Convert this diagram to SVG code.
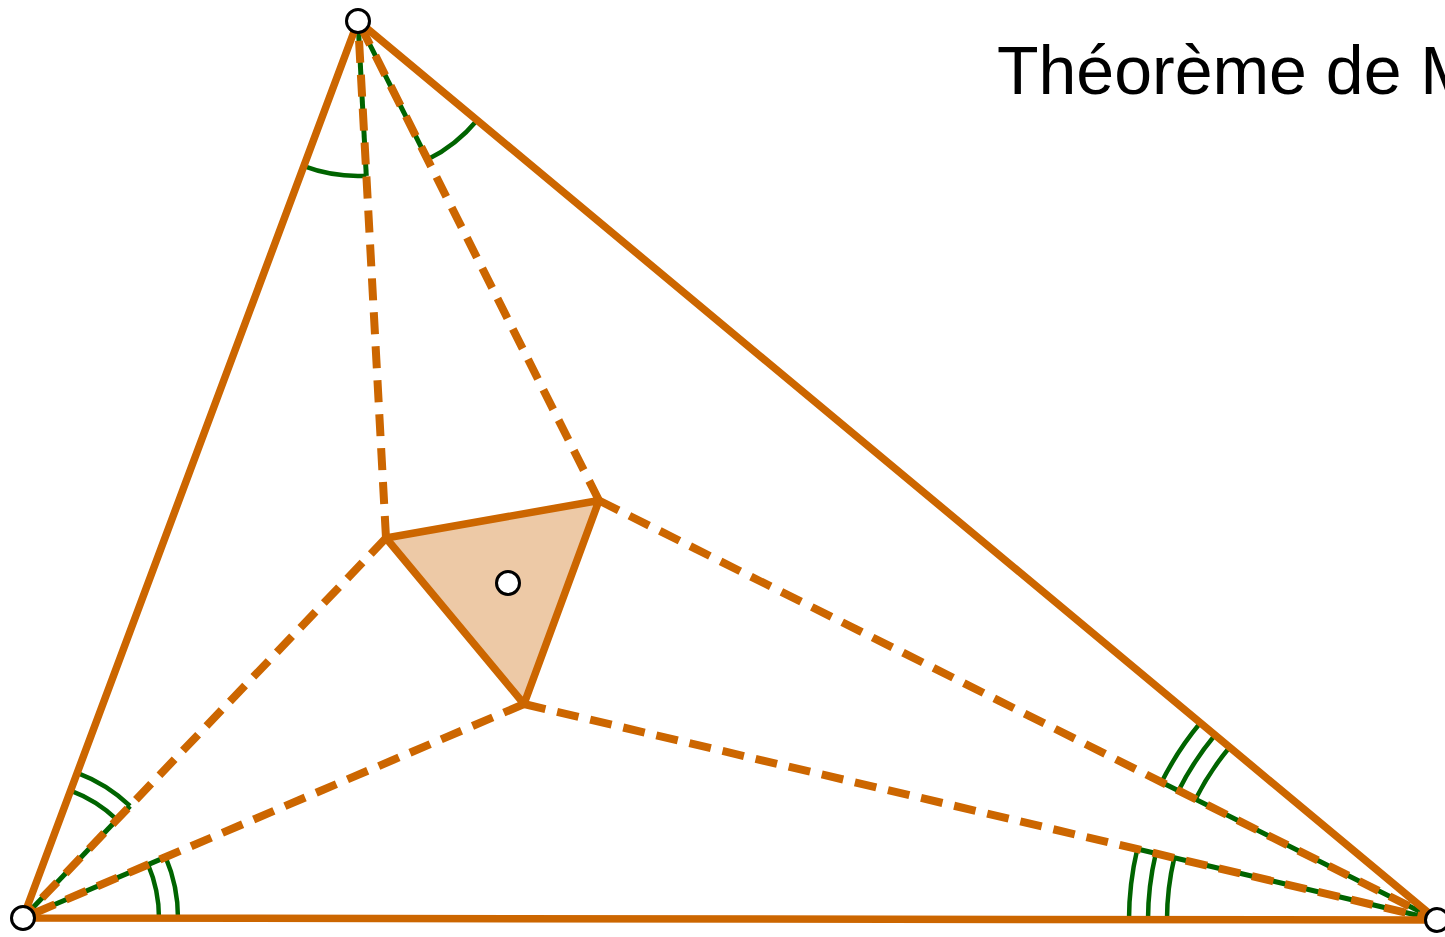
<svg xmlns="http://www.w3.org/2000/svg" width="1445" height="937" viewBox="0 0 1445 937">
<style>
.side{stroke:#CC6600;stroke-width:7.5;fill:none;stroke-linecap:round}
.tri{stroke:#CC6600;stroke-width:8;stroke-dasharray:22 12;fill:none}
.g{stroke:#006400;stroke-width:4.5;fill:none}
.gu{stroke:#006400;stroke-width:5;fill:none}
.pt{fill:#fff;stroke:#000;stroke-width:3}
.title{font-family:"Liberation Sans",Arial,sans-serif;font-size:68px;fill:#000}
</style>
<rect width="1445" height="937" fill="#fff"/>
<g id="angle-marks">
<path class="g" d="M366.3,175.8 A155,155 0 0 1 303.8,166.2"/>
<path class="g" d="M477.1,120.2 A155,155 0 0 1 427.5,159.6"/>
<path class="g" d="M77.2,772.8 A155,155 0 0 1 130,805.9"/>
<path class="g" d="M70.6,790.6 A136,136 0 0 1 116.9,819.6"/>
<path class="g" d="M165.6,857.1 A155,155 0 0 1 178,918.2"/>
<path class="g" d="M148.1,864.6 A136,136 0 0 1 159,918.2"/>
<path class="g" d="M1195.5,799.3 A270,270 0 0 1 1229.6,747.2"/>
<path class="g" d="M1178.5,790.8 A289,289 0 0 1 1215,735"/>
<path class="g" d="M1161.5,782.3 A308,308 0 0 1 1200.4,722.8"/>
<path class="g" d="M1167,919.6 A270,270 0 0 1 1174.3,857.8"/>
<path class="g" d="M1148,919.6 A289,289 0 0 1 1155.8,853.4"/>
<path class="g" d="M1129,919.6 A308,308 0 0 1 1137.3,849"/>
</g>
<g id="connectors">
<g id="trisector-underlay">
<line class="gu" x1="358" y1="21" x2="366.3" y2="175.8"/>
<line class="gu" x1="358" y1="21" x2="427.5" y2="159.6"/>
<line class="gu" x1="23" y1="918" x2="130" y2="805.9"/>
<line class="gu" x1="23" y1="918" x2="165.6" y2="857.1"/>
<line class="gu" x1="1437" y1="920" x2="1161.5" y2="782.3"/>
<line class="gu" x1="1437" y1="920" x2="1137.3" y2="849"/>
</g>
<line class="tri" x1="386" y1="538" x2="358" y2="21"/>
<line class="tri" x1="599" y1="500.5" x2="358" y2="21"/>
<line class="tri" x1="386" y1="538" x2="23" y2="918"/>
<line class="tri" x1="524" y1="704" x2="23" y2="918"/>
<line class="tri" x1="599" y1="500.5" x2="1437" y2="920"/>
<line class="tri" x1="524" y1="704" x2="1437" y2="920"/>
</g>
<g id="triangle-ABC">
<polygon class="side" points="358,21 23,918 1437,920" stroke-linejoin="round"/>
</g>
<g id="morley-triangle">
<polygon points="386,538 599,500.5 524,704" fill="#EDC9A6" stroke="#CC6600" stroke-width="7.5" stroke-linejoin="round"/>
</g>
<g id="point-A"><circle class="pt" cx="358" cy="21" r="11.5"/></g>
<g id="point-B"><circle class="pt" cx="23" cy="918" r="11.5"/></g>
<g id="point-C"><circle class="pt" cx="1437" cy="920" r="11.5"/></g>
<g id="point-center"><circle class="pt" cx="508" cy="583" r="11.5"/></g>
<g id="title"><text class="title" x="997" y="94">Théorème de Morley</text></g>
</svg>
